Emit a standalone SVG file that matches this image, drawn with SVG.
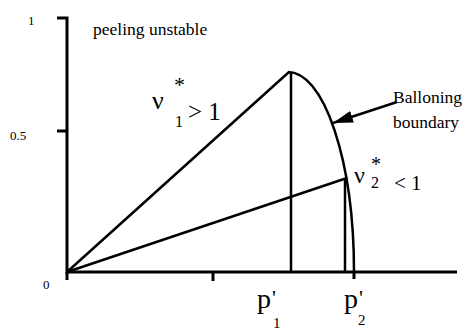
<svg xmlns="http://www.w3.org/2000/svg" width="465" height="331" viewBox="0 0 465 331">
<style>
.ln{stroke:#000;stroke-width:2.5;fill:none}
.ax{stroke:#000;stroke-width:3;fill:none}
.t{font-family:"Liberation Serif","Times New Roman",serif;fill:#000}
</style>
<defs>
<marker id="ah" markerWidth="20" markerHeight="12" refX="20" refY="6" orient="auto" markerUnits="userSpaceOnUse">
<path d="M0,0 L20,6 L0,12 Z" fill="#000"/>
</marker>
</defs>
<rect width="465" height="331" fill="#fff"/>
<g id="axes">
<path class="ax" d="M57,18 H67 V272 H457"/>
<path class="ax" d="M57,131 H67"/>
<path class="ax" d="M67,272 V280 M213,272 V281 M354,272 V279"/>
<text class="t" x="28" y="25" font-size="13">1</text>
<text class="t" x="10" y="140" font-size="13">0.5</text>
<text class="t" x="43" y="289" font-size="13">0</text>
</g>
<g id="connectors">
<path class="ln" d="M67,272 L289,72"/>
<path class="ln" d="M67,272 L347,178"/>
<path class="ln" d="M291,72 V272"/>
<path class="ln" d="M345,178 V272"/>
<path class="ln" d="M288,72 A66,200 0 0 1 354,272"/>
<path class="ln" d="M397,102 L333,123" marker-end="url(#ah)"/>
</g>
<g id="peeling">
<text class="t" x="93" y="35" font-size="17.5">peeling unstable</text>
</g>
<g id="ballooning">
<text class="t" x="393" y="103" font-size="17.5">Balloning</text>
<text class="t" x="393" y="128" font-size="17.5">boundary</text>
</g>
<g id="nu1">
<text class="t" x="152" y="109" font-size="26">ν</text>
<text class="t" x="174" y="92" font-size="22">*</text>
<text class="t" x="175" y="127" font-size="16">1</text>
<text class="t" x="188" y="120" font-size="25">&gt; 1</text>
</g>
<g id="nu2">
<text class="t" x="354" y="183" font-size="24">ν</text>
<text class="t" x="371" y="171" font-size="20">*</text>
<text class="t" x="371" y="188" font-size="16">2</text>
<text class="t" x="394" y="190" font-size="21">&lt; 1</text>
</g>
<g id="p1">
<text class="t" x="257" y="308" font-size="28">p</text>
<text class="t" x="272" y="305" font-size="22">'</text>
<text class="t" x="273" y="328" font-size="15">1</text>
</g>
<g id="p2">
<text class="t" x="344" y="308" font-size="28">p</text>
<text class="t" x="359" y="305" font-size="22">'</text>
<text class="t" x="358" y="325" font-size="15">2</text>
</g>
</svg>
